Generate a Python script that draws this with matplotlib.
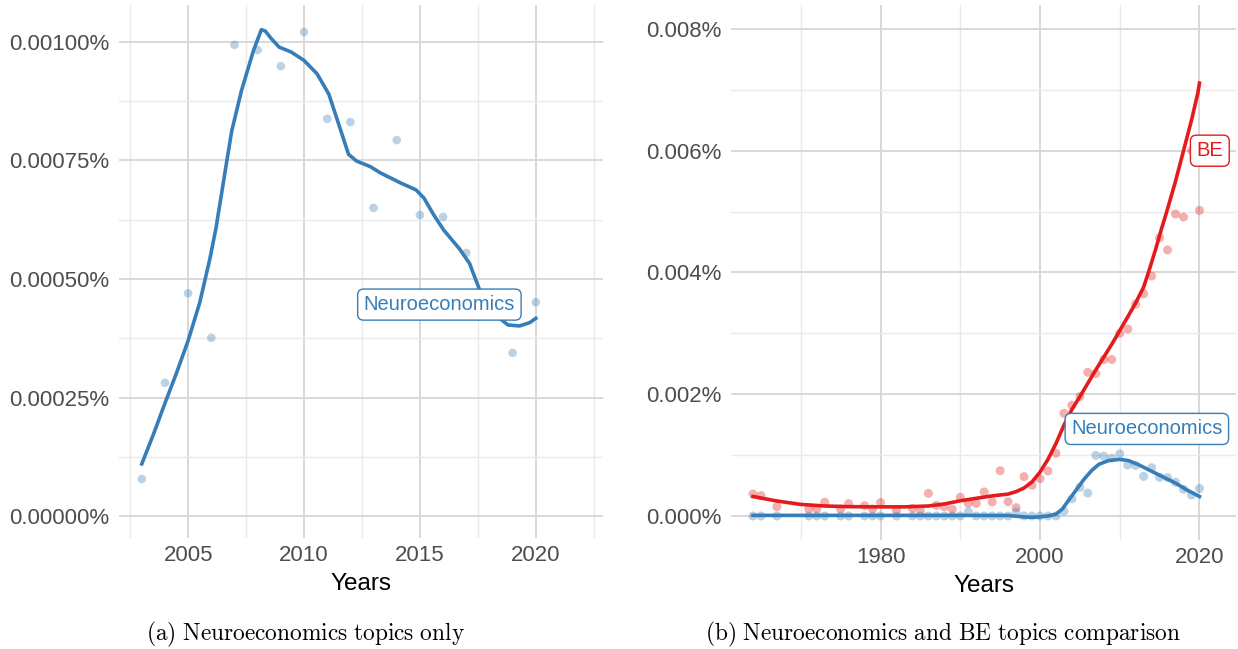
import numpy as np
import matplotlib
matplotlib.use("Agg")
import matplotlib.pyplot as plt
from matplotlib.ticker import FuncFormatter

plt.rcParams['font.family'] = ['Liberation Sans', 'DejaVu Sans']
plt.rcParams['mathtext.fontset'] = 'cm'

BLUE = '#377EB8'
RED = '#E41A1C'

# --- panel (a): neuroeconomics share per year (in %)
years_a = [2003, 2004, 2005, 2006, 2007, 2008, 2009, 2010, 2011, 2012,
           2013, 2014, 2015, 2016, 2017, 2018, 2019, 2020]
neuro_a = [0.000078, 0.000281, 0.000470, 0.000376, 0.000994, 0.000983,
           0.000949, 0.001021, 0.000838, 0.000831, 0.000650, 0.000793,
           0.000635, 0.000631, 0.000555, 0.000440, 0.000344, 0.000451]

# smoothed trend
smooth_a_x = [2003.0, 2003.5, 2004.0, 2004.5, 2005.0, 2005.5, 2005.94, 2006.2,
              2006.62, 2006.88, 2007.3, 2007.82, 2008.16, 2008.33, 2008.59,
              2008.93, 2009.44, 2010.0, 2010.56, 2011.07, 2011.5, 2011.92,
              2012.26, 2012.86, 2013.29, 2014.15, 2014.83, 2015.17, 2015.6,
              2016.03, 2016.7, 2017.14, 2017.56, 2018.0, 2018.44, 2018.8,
              2019.3, 2019.74, 2020.0]
smooth_a_y = [0.000110, 0.000172, 0.000238, 0.000302, 0.000370, 0.000450,
              0.000543, 0.000607, 0.000734, 0.000812, 0.000897, 0.000982,
              0.001026, 0.001023, 0.001007, 0.000989, 0.000979, 0.000961,
              0.000933, 0.000890, 0.000826, 0.000763, 0.000749, 0.000737,
              0.000724, 0.000703, 0.000688, 0.000671, 0.000635, 0.000603,
              0.000564, 0.000533, 0.000479, 0.000440, 0.000417, 0.000403,
              0.000401, 0.000408, 0.000417]

# --- panel (b): neuroeconomics vs BE
years_b = [1964, 1965, 1967, 1971, 1972, 1973, 1975, 1976, 1978, 1979, 1980,
           1982, 1984, 1985, 1986, 1987, 1988, 1989, 1990, 1991, 1992, 1993,
           1994, 1995, 1996, 1997, 1998, 1999, 2000, 2001, 2002, 2003, 2004,
           2005, 2006, 2007, 2008, 2009, 2010, 2011, 2012, 2013, 2014, 2015,
           2016, 2017, 2018, 2019, 2020]
neuro_b = [0, 0, 0, 0, 0, 0, 0, 0, 0, 0, 0,
           0, 0, 0, 0, 0, 0, 0, 0, 0.00007, 0, 0,
           0, 0, 0, 0.00006, 0, 0, 0, 0, 0] + neuro_a
be_b = [0.000361, 0.000334, 0.000153, 0.000115, 0.000115, 0.000225, 0.000115,
        0.000203, 0.000170, 0.000115, 0.000219, 0.000088, 0.000126, 0.000088,
        0.000372, 0.000175, 0.000153, 0.000110, 0.000307, 0.000208, 0.000208,
        0.000394, 0.000230, 0.000745, 0.000235, 0.000137, 0.000646, 0.000504,
        0.000613, 0.000739, 0.001030, 0.001687, 0.001820, 0.001960, 0.002360,
        0.002340, 0.002570, 0.002570, 0.003000, 0.003070, 0.003480, 0.003650,
        0.003940, 0.004570, 0.004370, 0.004960, 0.004910, 0.006000, 0.005020]

smooth_be_x = [1964, 1967, 1970, 1973, 1976, 1980, 1983, 1986, 1988, 1990, 1992,
               1994, 1996, 1997, 1998, 1999, 2000, 2001, 2002, 2003, 2004, 2005,
               2006, 2007, 2008, 2009, 2009.8, 2011, 2012, 2013, 2013.6, 2014.5,
               2015.2, 2015.9, 2017, 2018, 2019, 2019.8, 2020]
smooth_be_y = [0.000320, 0.000246, 0.000190, 0.000164, 0.000153, 0.000150,
               0.000150, 0.000164, 0.000197, 0.000250, 0.000290, 0.000330,
               0.000360, 0.000400, 0.000460, 0.000560, 0.000720, 0.000930,
               0.001190, 0.001490, 0.001750, 0.001960, 0.002180, 0.002400,
               0.002610, 0.002820, 0.003000, 0.003270, 0.003500, 0.003760,
               0.004000, 0.004380, 0.004700, 0.005000, 0.005500, 0.006000,
               0.006500, 0.006950, 0.007110]
smooth_nb_x = [1964, 1970, 1980, 1990, 1996, 1997.5, 1998.5, 1999.5, 2001, 2002,
               2002.8, 2003.6, 2004.5, 2005.5, 2006.5, 2007.4, 2008.6, 2010,
               2011.1, 2012.4, 2013.6, 2015.3, 2017, 2018.4, 2020]
smooth_nb_y = [0.00001, 0.00001, 0.00001, 0.00001, 0.000008, -0.00001, -0.00002,
               -0.00002, 0.0, 0.00003, 0.000115, 0.00026, 0.00042, 0.00060,
               0.00075, 0.00085, 0.00091, 0.00093, 0.00091, 0.00084, 0.00076,
               0.00065, 0.00054, 0.00043, 0.00032]

fig = plt.figure(figsize=(12.38, 6.49), dpi=100)
ax1 = fig.add_axes([0.0958, 0.171, 0.3913, 0.8213])
ax2 = fig.add_axes([0.5905, 0.168, 0.408, 0.824])


def style(ax):
    for s in ax.spines.values():
        s.set_visible(False)
    ax.tick_params(which='both', length=0, labelsize=16, labelcolor='#4D4D4D')
    ax.tick_params(axis='y', pad=7)
    ax.tick_params(axis='x', pad=5)
    ax.grid(which='major', color='#D6D6D6', linewidth=1.3)
    ax.grid(which='minor', color='#EAEAEA', linewidth=1.0)
    ax.set_axisbelow(True)
    ax.set_xlabel('Years', fontsize=17.5, color='black', labelpad=5)


label_box = dict(boxstyle='round,pad=0.3,rounding_size=0.3', fc='white', lw=1.0)

# panel (a)
ax1.scatter(years_a, neuro_a, s=38, color=BLUE, alpha=0.35, edgecolors='none', zorder=2)
ax1.plot(smooth_a_x, smooth_a_y, color=BLUE, lw=2.6, zorder=3)
ax1.set_xlim(2002.0, 2022.9)
ax1.set_ylim(-0.0000464, 0.001078)
ax1.set_xticks([2005, 2010, 2015, 2020])
ax1.set_xticks([2002.5, 2007.5, 2012.5, 2017.5, 2022.5], minor=True)
ax1.set_yticks([0, 0.00025, 0.0005, 0.00075, 0.001])
ax1.set_yticks([0.000125, 0.000375, 0.000625, 0.000875], minor=True)
ax1.yaxis.set_major_formatter(FuncFormatter(lambda v, p: f'{v:.5f}%'))
style(ax1)
ax1.text(2015.84, 0.000446, 'Neuroeconomics', color=BLUE, fontsize=14.5,
         ha='center', va='center', zorder=5, bbox=dict(label_box, ec=BLUE))

# panel (b)
ax2.scatter(years_b, be_b, s=42, color=RED, alpha=0.35, edgecolors='none', zorder=2)
ax2.scatter(years_b, neuro_b, s=42, color=BLUE, alpha=0.35, edgecolors='none', zorder=2)
ax2.plot(smooth_be_x, smooth_be_y, color=RED, lw=2.6, zorder=3)
ax2.plot(smooth_nb_x, smooth_nb_y, color=BLUE, lw=2.6, zorder=3)
ax2.set_xlim(1961.25, 2024.6)
ax2.set_ylim(-0.000394, 0.00839)
ax2.set_xticks([1980, 2000, 2020])
ax2.set_xticks([1970, 1990, 2010], minor=True)
ax2.set_yticks([0, 0.002, 0.004, 0.006, 0.008])
ax2.set_yticks([0.001, 0.003, 0.005, 0.007], minor=True)
ax2.yaxis.set_major_formatter(FuncFormatter(lambda v, p: f'{v:.3f}%'))
style(ax2)
ax2.text(2021.3, 0.006, 'BE', color=RED, fontsize=14.5,
         ha='center', va='center', zorder=5, bbox=dict(label_box, ec=RED))
ax2.text(2013.4, 0.00143, 'Neuroeconomics', color=BLUE, fontsize=14.5,
         ha='center', va='center', zorder=5, bbox=dict(label_box, ec=BLUE))

# captions
fig.text(305 / 1238, 1 - 634 / 649, r'$\mathrm{(a)\ Neuroeconomics\ topics\ only}$',
         ha='center', va='center', fontsize=16.8)
fig.text(943 / 1238, 1 - 634 / 649, r'$\mathrm{(b)\ Neuroeconomics\ and\ BE\ topics\ comparison}$',
         ha='center', va='center', fontsize=16.8)

fig.savefig('out.png', dpi=100)
